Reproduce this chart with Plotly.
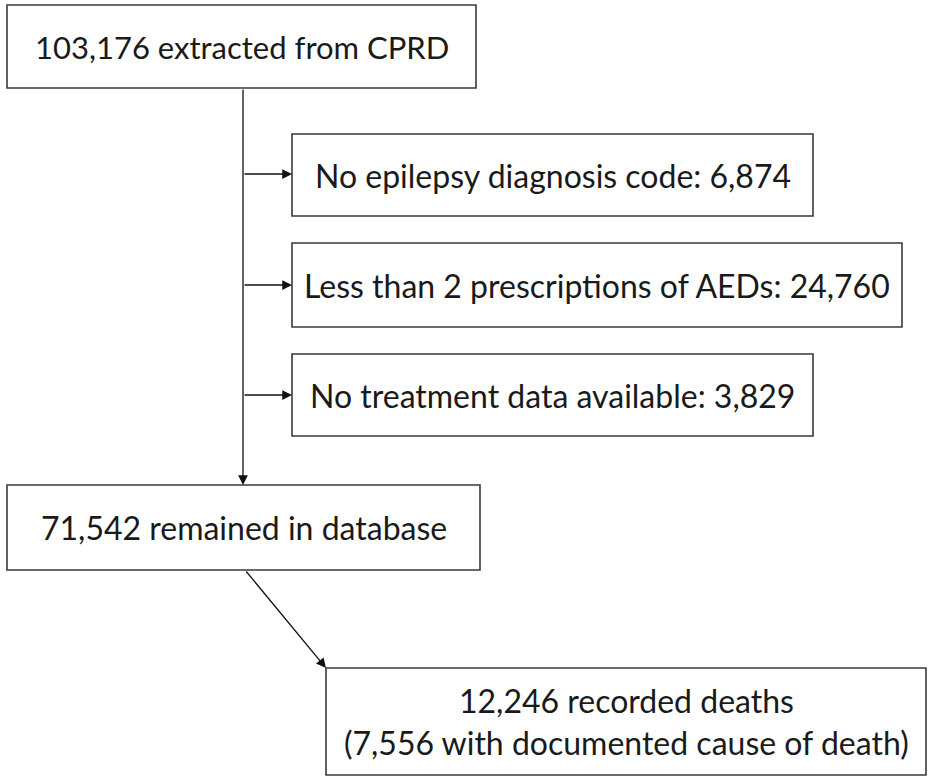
import plotly.graph_objects as go

# Flowchart content (each box: list of text lines)
box_labels = [
    ["103,176 extracted from CPRD"],
    ["No epilepsy diagnosis code: 6,874"],
    ["Less than 2 prescriptions of AEDs: 24,760"],
    ["No treatment data available: 3,829"],
    ["71,542 remained in database"],
    ["12,246 recorded deaths", "(7,556 with documented cause of death)"],
]

# Layout geometry (pixel space of the 928x777 canvas): x0, y0, x1, y1
box_geom = [
    (7, 5, 476, 88),
    (292, 134, 813, 216),
    (292, 243, 902, 327),
    (292, 354, 813, 436),
    (7, 485, 480, 570),
    (326, 668, 926, 775),
]
box_font_sizes = [31, 32, 32, 32, 32, 32]
line_gap = 42

# arrows: (x_start, y_start, x_end, y_end)
arrow_geom = [
    (243, 174, 292, 174),
    (243, 285, 292, 285),
    (243, 395, 292, 395),
    (243, 88, 243, 485),
    (245, 570, 326, 668),
]

W, H = 928, 777
FONT = "Lato"

fig = go.Figure()
fig.add_trace(go.Scatter(x=[0, W], y=[0, H], mode="markers",
                         marker=dict(opacity=0), hoverinfo="skip", showlegend=False))

for (x0, y0, x1, y1), lines, fs in zip(box_geom, box_labels, box_font_sizes):
    fig.add_shape(type="rect", x0=x0, y0=y0, x1=x1, y1=y1, xref="x", yref="y",
                  line=dict(color="#3a3a3a", width=1.6), fillcolor="white", layer="below")
    n = len(lines)
    cy = (y0 + y1) / 2
    for i, ln in enumerate(lines):
        yy = cy + (i - (n - 1) / 2) * line_gap
        fig.add_annotation(x=(x0 + x1) / 2, y=yy, xref="x", yref="y",
                           text=ln, showarrow=False,
                           font=dict(family=FONT, size=fs, color="#1a1a1a"),
                           align="center")

for xs, ys, xe, ye in arrow_geom:
    fig.add_annotation(x=xe, y=ye, ax=xs, ay=ys, xref="x", yref="y", axref="x", ayref="y",
                       text="", showarrow=True, arrowhead=2, arrowsize=1.5,
                       arrowwidth=1.3, arrowcolor="#111111", standoff=0)

fig.update_xaxes(range=[0, W], visible=False, fixedrange=True)
fig.update_yaxes(range=[H, 0], visible=False, fixedrange=True)
fig.update_layout(width=W, height=H, margin=dict(l=0, r=0, t=0, b=0),
                  plot_bgcolor="white", paper_bgcolor="white", showlegend=False)

fig.write_html("out.html", config={"displayModeBar": False},
               post_script="document.body.style.margin='0';document.body.style.overflow='hidden';")
